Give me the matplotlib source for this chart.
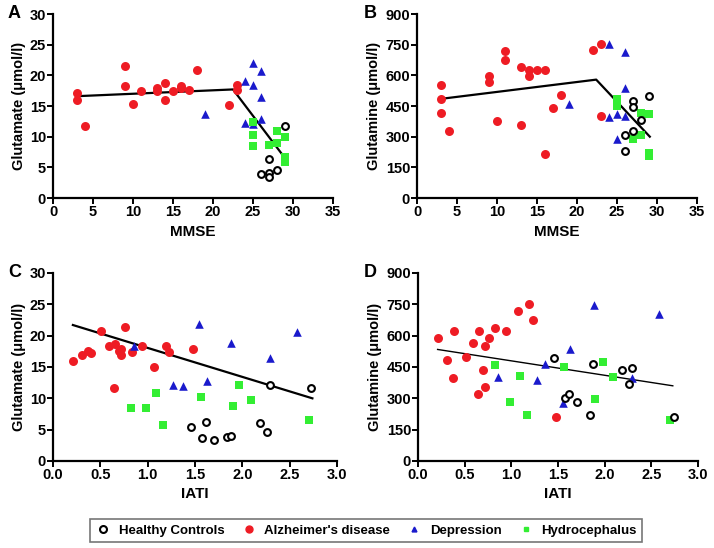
import matplotlib
matplotlib.use('agg')
import matplotlib.pyplot as plt
import matplotlib.lines as mlines

plt.rcParams['font.family'] = ['Liberation Sans', 'DejaVu Sans']
plt.rcParams['font.weight'] = 'bold'

# ---- Panel A: MMSE vs glutamate ----
a_ad_x = [3, 3, 4, 9, 9, 10, 11, 13, 13, 14, 14, 15, 16, 16, 17, 18, 22, 23, 23]
a_ad_y = [17.1, 15.9, 11.7, 21.6, 18.3, 15.4, 17.4, 18.0, 17.5, 18.7, 16.0, 17.5, 18.3, 17.9, 17.6, 20.8, 15.1, 18.4, 17.6]
a_dep_x = [19, 24, 24, 25, 25, 25, 26, 26, 26]
a_dep_y = [13.7, 19.0, 12.2, 22.0, 18.4, 12.0, 20.7, 16.4, 12.9]
a_hyd_x = [25, 25, 25, 27, 28, 28, 29, 29, 29]
a_hyd_y = [12.4, 10.3, 8.5, 8.6, 11.0, 9.0, 9.9, 6.7, 5.9]
a_hc_x = [26, 27, 27, 27, 28, 29]
a_hc_y = [3.9, 6.3, 4.1, 3.5, 4.6, 11.8]
a_fit_x = [3, 22.5, 29]
a_fit_y = [16.6, 17.7, 6.5]

# ---- Panel B: MMSE vs glutamine ----
b_ad_x = [3, 3, 3, 4, 9, 9, 10, 11, 11, 13, 13, 14, 14, 15, 16, 16, 17, 18, 22, 23, 23]
b_ad_y = [553, 486, 415, 328, 595, 569, 375, 720, 676, 642, 355, 628, 595, 626, 624, 214, 439, 504, 725, 754, 400]
b_dep_x = [19, 24, 24, 25, 25, 26, 26, 26]
b_dep_y = [460, 754, 397, 413, 287, 712, 540, 400]
b_hyd_x = [25, 25, 25, 27, 28, 28, 29, 29, 29]
b_hyd_y = [485, 464, 450, 290, 417, 306, 409, 222, 203]
b_hc_x = [26, 26, 27, 27, 27, 28, 29]
b_hc_y = [310, 230, 473, 446, 328, 381, 501]
b_fit_x = [3, 22.4, 29.1]
b_fit_y = [485, 579, 300]

# ---- Panel C: IATI vs glutamate ----
c_ad_x = [0.21, 0.31, 0.37, 0.40, 0.51, 0.59, 0.65, 0.64, 0.70, 0.72, 0.72, 0.76, 0.83, 0.94, 1.07, 1.19, 1.23, 1.48]
c_ad_y = [15.9, 16.9, 17.6, 17.3, 20.7, 18.3, 18.6, 11.6, 17.6, 17.9, 16.9, 21.4, 17.4, 18.3, 15.0, 18.3, 17.4, 17.9]
c_dep_x = [0.86, 1.27, 1.37, 1.54, 1.63, 1.88, 2.29, 2.58]
c_dep_y = [18.3, 12.1, 11.9, 21.8, 12.7, 18.9, 16.4, 20.6]
c_hyd_x = [0.82, 0.98, 1.09, 1.16, 1.56, 1.90, 1.97, 2.09, 2.70]
c_hyd_y = [8.5, 8.5, 10.9, 5.7, 10.2, 8.8, 12.2, 9.8, 6.5]
c_hc_x = [1.46, 1.57, 1.62, 1.70, 1.84, 1.88, 2.19, 2.26, 2.29, 2.73]
c_hc_y = [5.5, 3.6, 6.2, 3.3, 3.8, 4.0, 6.1, 4.6, 12.2, 11.6]
c_fit_x = [0.21, 2.74]
c_fit_y = [21.7, 10.0]

# ---- Panel D: IATI vs glutamine ----
d_ad_x = [0.21, 0.31, 0.38, 0.39, 0.51, 0.59, 0.65, 0.64, 0.70, 0.72, 0.72, 0.76, 0.82, 0.94, 1.07, 1.19, 1.23, 1.48]
d_ad_y = [591, 483, 396, 624, 499, 566, 623, 323, 435, 550, 352, 587, 639, 622, 718, 750, 673, 209]
d_dep_x = [0.86, 1.27, 1.36, 1.55, 1.63, 1.89, 2.29, 2.58]
d_dep_y = [403, 390, 464, 280, 535, 746, 395, 703]
d_hyd_x = [0.82, 0.99, 1.09, 1.17, 1.56, 1.90, 1.98, 2.09, 2.70]
d_hyd_y = [460, 281, 409, 219, 452, 297, 476, 404, 198]
d_hc_x = [1.46, 1.57, 1.62, 1.70, 1.84, 1.88, 2.19, 2.26, 2.29, 2.74]
d_hc_y = [495, 300, 320, 283, 222, 463, 436, 369, 447, 211]
d_fit_x = [0.21, 2.73]
d_fit_y = [534, 360]

group_labels = ["Healthy Controls", "Alzheimer's disease", "Depression", "Hydrocephalus"]

RED = '#ee1c24'
BLUE = '#1a1acc'
GREEN = '#33ee33'


def draw_panel(ax, hc, ad, dep, hyd, fit, fit_lw):
    ax.plot(fit[0], fit[1], color='black', lw=fit_lw, zorder=2)
    ax.scatter(ad[0], ad[1], s=42, color=RED, marker='o', zorder=3, linewidths=0)
    ax.scatter(dep[0], dep[1], s=38, color=BLUE, marker='^', zorder=3, linewidths=0)
    ax.scatter(hyd[0], hyd[1], s=36, color=GREEN, marker='s', zorder=3, linewidths=0)
    ax.scatter(hc[0], hc[1], s=24, facecolors='white', edgecolors='black', marker='o',
               linewidths=1.5, zorder=4)
    for side in ['top', 'right']:
        ax.spines[side].set_visible(False)
    for side in ['left', 'bottom']:
        ax.spines[side].set_linewidth(1.6)
    ax.tick_params(direction='out', length=4, width=1.4, labelsize=10.5, pad=1)


fig = plt.figure(figsize=(7.14, 5.48), dpi=100)

axA = fig.add_axes([53 / 714, 1 - 198 / 548, 280 / 714, 184 / 548])
axB = fig.add_axes([417 / 714, 1 - 198 / 548, 280 / 714, 184 / 548])
axC = fig.add_axes([53 / 714, 1 - 461 / 548, 284 / 714, 188 / 548])
axD = fig.add_axes([418 / 714, 1 - 461 / 548, 280 / 714, 188 / 548])

draw_panel(axA, (a_hc_x, a_hc_y), (a_ad_x, a_ad_y), (a_dep_x, a_dep_y), (a_hyd_x, a_hyd_y), (a_fit_x, a_fit_y), 1.6)
draw_panel(axB, (b_hc_x, b_hc_y), (b_ad_x, b_ad_y), (b_dep_x, b_dep_y), (b_hyd_x, b_hyd_y), (b_fit_x, b_fit_y), 1.6)
draw_panel(axC, (c_hc_x, c_hc_y), (c_ad_x, c_ad_y), (c_dep_x, c_dep_y), (c_hyd_x, c_hyd_y), (c_fit_x, c_fit_y), 1.6)
draw_panel(axD, (d_hc_x, d_hc_y), (d_ad_x, d_ad_y), (d_dep_x, d_dep_y), (d_hyd_x, d_hyd_y), (d_fit_x, d_fit_y), 1.0)

for ax in (axA, axB):
    ax.set_xlim(0, 35)
    ax.set_xticks(range(0, 36, 5))
    ax.set_xlabel('MMSE', fontsize=11, fontweight='bold', labelpad=4)
for ax in (axC, axD):
    ax.set_xlim(0, 3.0)
    ax.set_xticks([0.0, 0.5, 1.0, 1.5, 2.0, 2.5, 3.0])
    ax.set_xticklabels(['0.0', '0.5', '1.0', '1.5', '2.0', '2.5', '3.0'])
    ax.set_xlabel('IATI', fontsize=11, fontweight='bold', labelpad=4)
for ax in (axA, axC):
    ax.set_ylim(0, 30)
    ax.set_yticks(range(0, 31, 5))
    ax.set_ylabel('Glutamate (\u03bcmol/l)', fontsize=10.5, fontweight='bold', labelpad=3)
for ax in (axB, axD):
    ax.set_ylim(0, 900)
    ax.set_yticks(range(0, 901, 150))
    ax.set_ylabel('Glutamine (\u03bcmol/l)', fontsize=10.5, fontweight='bold', labelpad=3)

for letter, (x, y) in zip('ABCD', [(8, 14), (364, 14), (8, 272), (364, 272)]):
    fig.text(x / 714, 1 - y / 548, letter, fontsize=13, fontweight='bold', va='center', ha='left')

handles = [
    mlines.Line2D([], [], ls='', marker='o', markersize=5, markerfacecolor='white',
                  markeredgecolor='black', markeredgewidth=1.5),
    mlines.Line2D([], [], ls='', marker='o', markersize=5, color=RED),
    mlines.Line2D([], [], ls='', marker='^', markersize=3.5, color=BLUE),
    mlines.Line2D([], [], ls='', marker='s', markersize=3.5, color=GREEN),
]
leg = fig.legend(handles, group_labels, ncol=4, mode='expand',
                 bbox_to_anchor=(90 / 714, 1 - 543 / 548, 552 / 714, 25 / 548),
                 loc='center', fancybox=False, frameon=True, handletextpad=0.6,
                 handlelength=1.2, borderaxespad=0, prop={'weight': 'bold', 'size': 9.5})
leg.get_frame().set_edgecolor('#555555')
leg.get_frame().set_linewidth(1.2)

fig.savefig('out.png', dpi=100)
